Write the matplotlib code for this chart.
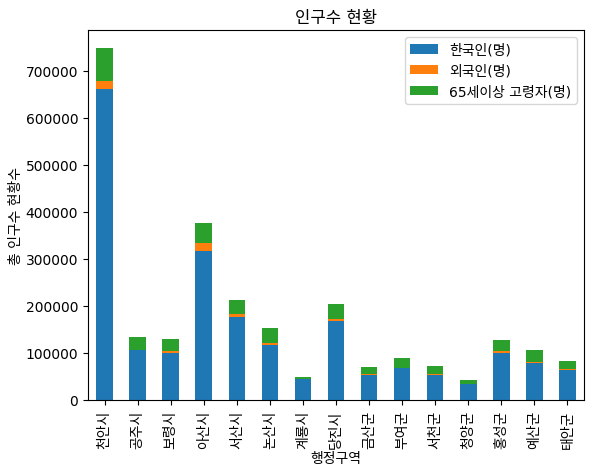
import matplotlib
matplotlib.use("Agg")
import matplotlib.pyplot as plt
import numpy as np

plt.rcParams["font.family"] = ["DejaVu Sans", "Noto Sans CJK KR"]
plt.rcParams["axes.unicode_minus"] = False

REGIONS = ["천안시", "공주시", "보령시", "아산시", "서산시", "논산시", "계룡시", "당진시",
           "금산군", "부여군", "서천군", "청양군", "홍성군", "예산군", "태안군"]

# 한국인, 외국인, 65세이상 고령자 (명)
KOREAN = [660000, 106000, 100000, 317000, 177000, 117000, 45000, 168000,
          54000, 67000, 54000, 33000, 100000, 79000, 64000]
FOREIGN = [19000, 800, 5000, 17000, 5000, 4000, 500, 4500,
           1200, 2000, 600, 300, 4000, 2000, 1000]
ELDERLY = [70000, 27700, 25000, 43000, 31000, 32000, 3500, 32000,
           15000, 20000, 17400, 10000, 24000, 25000, 18000]

LABELS = ["한국인(명)", "외국인(명)", "65세이상 고령자(명)"]
COLORS = ["#1f77b4", "#ff7f0e", "#2ca02c"]

fig = plt.figure(figsize=(5.94, 4.77), dpi=100)
ax = fig.add_axes([88 / 594, 1 - 401 / 477, (584 - 88) / 594, (401 - 31) / 477])

x = np.arange(len(REGIONS))
bottom = np.zeros(len(REGIONS))
for vals, label, color in zip([KOREAN, FOREIGN, ELDERLY], LABELS, COLORS):
    ax.bar(x, vals, width=0.5, bottom=bottom, label=label, color=color)
    bottom += np.array(vals)

ax.set_xlim(-0.5, len(REGIONS) - 0.5)
ax.set_xticks(x)
ax.set_xticklabels(REGIONS, rotation=90)
ax.set_title("인구수 현황")
ax.set_xlabel("행정구역", labelpad=2)
ax.set_ylabel("총 인구수 현황수", labelpad=2)
ax.legend(loc="upper right")

fig.savefig("out.png", dpi=100)
